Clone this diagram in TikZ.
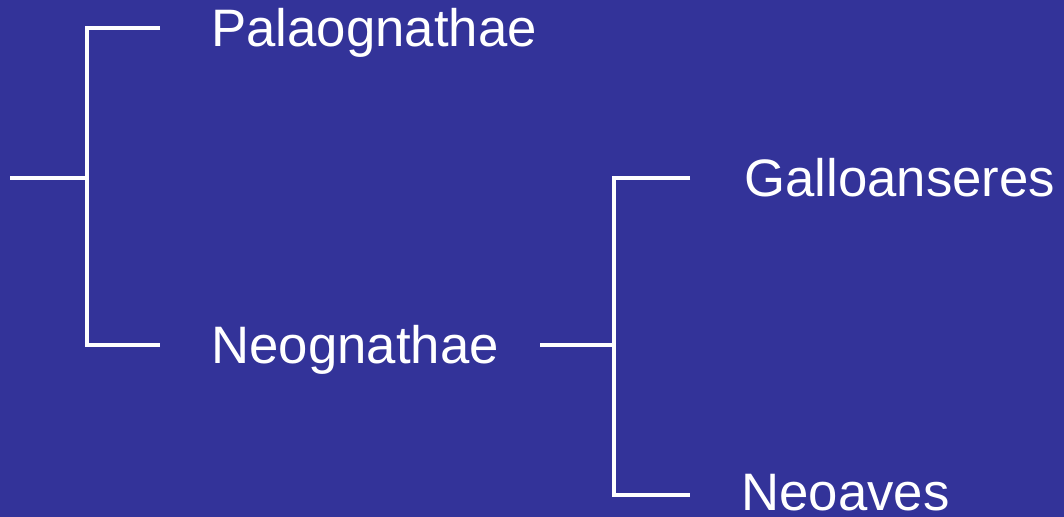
\documentclass[tikz,border=0pt]{standalone}
\usepackage{fontspec}
\setmainfont{Liberation Sans}
\usepackage{xcolor}
\definecolor{slide}{RGB}{51,51,153}

\begin{document}
\begin{tikzpicture}[line width=2.8pt,white,
    taxon/.style={anchor=base west,inner sep=0pt,font=\fontsize{30}{36}\selectfont}]
        \fill[slide] (0,0) rectangle (21.28,10.34);
        \useasboundingbox (0,0) rectangle (21.28,10.34);
        % first split
        \coordinate (root) at (0.2,6.78);
        \coordinate (birds) at (1.74,6.78);
        \coordinate (paltip) at (3.2,9.78);
        \coordinate (neotip) at (3.2,3.44);
        \draw (root) -- (birds);
        \draw (paltip) -| (birds) |- (neotip);
        \node[taxon] (pal) at (4.18,9.4) {Palaognathae};
        \node[taxon] (neo) at (4.18,3.06) {Neognathae};
        % second split
        \coordinate (neostem) at (10.8,3.44);
        \coordinate (neoj) at (12.28,3.44);
        \coordinate (galtip) at (13.8,6.78);
        \coordinate (avtip) at (13.8,0.44);
        \draw (neostem) -- (neoj);
        \draw (galtip) -| (neoj) |- (avtip);
        \node[taxon] (gal) at (14.84,6.4) {Galloanseres};
        \node[taxon] (aves) at (14.78,0.12) {Neoaves};
    \end{tikzpicture}
\end{document}
